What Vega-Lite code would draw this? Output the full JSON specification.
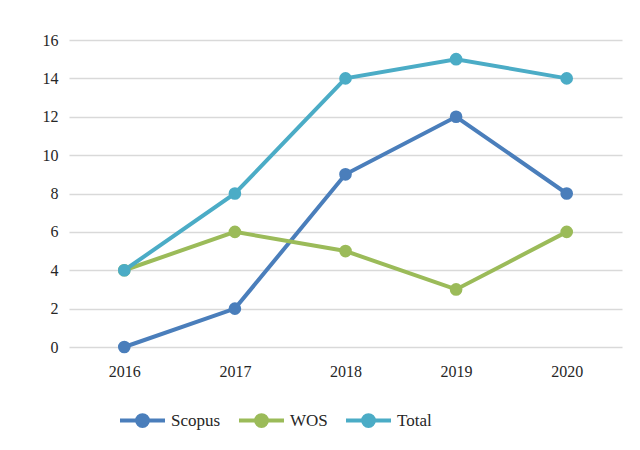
{
  "$schema": "https://vega.github.io/schema/vega-lite/v6.json",
  "width": 553,
  "height": 307,
  "autosize": {"type": "none"},
  "padding": {"left": 69, "top": 40, "right": 18, "bottom": 103},
  "background": "white",
  "config": {
    "view": {"stroke": null},
    "font": "Liberation Serif, Times New Roman, serif",
    "axis": {"labelFont": "Liberation Serif, Times New Roman, serif", "labelFontSize": 16, "labelColor": "#262626", "domain": false, "ticks": false, "gridColor": "#d9d9d9", "gridWidth": 1.3},
    "legend": {"labelFont": "Liberation Serif, Times New Roman, serif", "labelFontSize": 17, "labelColor": "#262626"}
  },
  "data": {
    "values": [
      {"year": "2016", "series": "Scopus", "value": 0},
      {"year": "2017", "series": "Scopus", "value": 2},
      {"year": "2018", "series": "Scopus", "value": 9},
      {"year": "2019", "series": "Scopus", "value": 12},
      {"year": "2020", "series": "Scopus", "value": 8},
      {"year": "2016", "series": "WOS", "value": 4},
      {"year": "2017", "series": "WOS", "value": 6},
      {"year": "2018", "series": "WOS", "value": 5},
      {"year": "2019", "series": "WOS", "value": 3},
      {"year": "2020", "series": "WOS", "value": 6},
      {"year": "2016", "series": "Total", "value": 4},
      {"year": "2017", "series": "Total", "value": 8},
      {"year": "2018", "series": "Total", "value": 14},
      {"year": "2019", "series": "Total", "value": 15},
      {"year": "2020", "series": "Total", "value": 14}
    ]
  },
  "encoding": {
    "x": {"field": "year", "type": "ordinal", "scale": {"type": "point", "padding": 0.5}, "axis": {"title": null, "labelAngle": 0, "labelPadding": 16, "grid": false}},
    "y": {"field": "value", "type": "quantitative", "scale": {"domain": [0, 16]}, "axis": {"title": null, "values": [0, 2, 4, 6, 8, 10, 12, 14, 16], "labelPadding": 11}},
    "color": {
      "field": "series", "type": "nominal",
      "scale": {"domain": ["Scopus", "WOS", "Total"], "range": ["#4a7ebb", "#9bbb59", "#4bacc6"]},
      "legend": {"title": null, "orient": "none", "direction": "horizontal", "legendX": 49, "legendY": 356, "symbolType": "M -1 0 L 1 0 M 0.24 0 A 0.24 0.24 0 1 1 -0.24 0 A 0.24 0.24 0 1 1 0.24 0 Z", "symbolSize": 2025, "symbolStrokeWidth": 4, "labelOffset": 4, "columnPadding": 10}
    }
  },
  "layer": [
    {"mark": {"type": "line", "strokeWidth": 4}},
    {"mark": {"type": "point", "filled": true, "size": 160, "opacity": 1}}
  ]
}
